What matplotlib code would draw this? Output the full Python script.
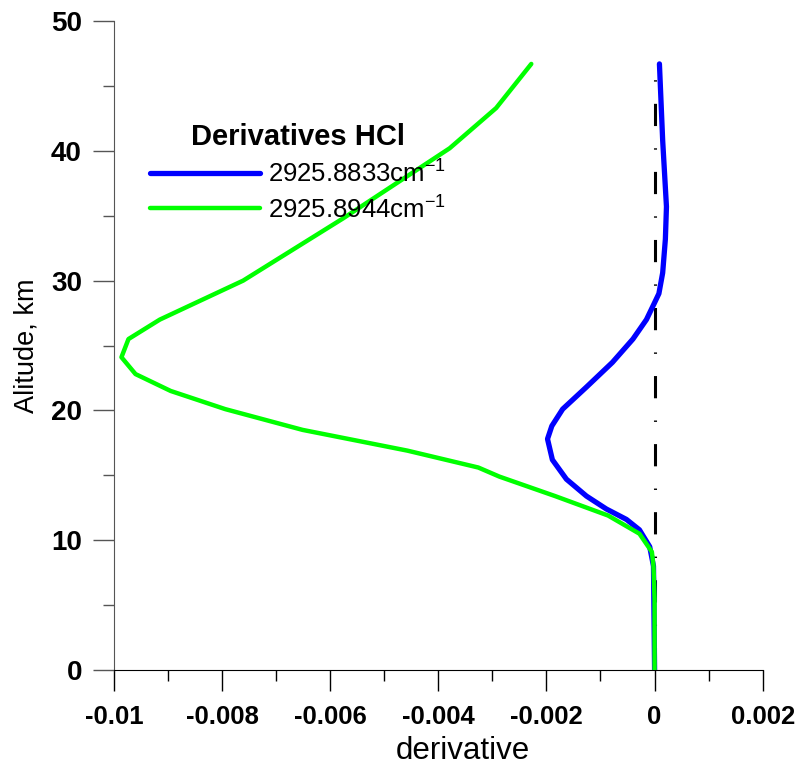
import matplotlib
matplotlib.use("Agg")
import matplotlib.pyplot as plt
from matplotlib.ticker import MultipleLocator, FuncFormatter

plt.rcParams['font.family'] = ['Liberation Sans', 'DejaVu Sans']
plt.rcParams['mathtext.fontset'] = 'custom'
plt.rcParams['mathtext.rm'] = 'Liberation Sans'
plt.rcParams['lines.scale_dashes'] = False

# altitude (km) and derivative values
alt_blue = [0, 8.0, 9.5, 10.8, 11.6, 12.4, 13.4, 14.7, 16.2, 17.8, 18.8, 20.1,
            21.8, 23.7, 25.5, 27.0, 28.3, 29.0, 30.6, 33.2, 35.7, 40.8, 46.7]
der_blue = [0.0, -0.00002, -0.00009, -0.00028, -0.00052, -0.00089, -0.00126,
            -0.00163, -0.00189, -0.00198, -0.0019, -0.0017, -0.00126, -0.00078,
            -0.0004, -0.00015, 0.0, 0.00008, 0.00015, 0.0002, 0.00022, 0.00015,
            0.00009]

alt_green = [0, 5.5, 8.0, 9.1, 10.5, 11.9, 13.4, 14.9, 15.6, 16.9, 18.5, 20.1,
             21.5, 22.8, 24.1, 25.5, 27.0, 30.0, 34.8, 40.2, 43.3, 46.7]
der_green = [0.0, 0.0, -0.00002, -0.00005, -0.00028, -0.00086, -0.00184,
             -0.00287, -0.00326, -0.00457, -0.00651, -0.00794, -0.00895,
             -0.0096, -0.00986, -0.00973, -0.00915, -0.00761, -0.00576,
             -0.00379, -0.00293, -0.00228]

ref_alt = [0, 46]
ref_der = [0, 0]

labels = ["2925.8833cm$^{-1}$", "2925.8944cm$^{-1}$"]

fig = plt.figure(figsize=(8.02, 7.67), dpi=100)
ax = fig.add_axes([0.142, 0.1265, 0.809, 0.846])

ax.plot(ref_der, ref_alt, color='black', linewidth=2.2,
        linestyle=(0, (16, 16, 1, 16)), zorder=1)
ax.plot(der_blue, alt_blue, color='#0000ff', linewidth=3.8,
        solid_capstyle='round', label=labels[0], zorder=2)
ax.plot(der_green, alt_green, color='#00ff00', linewidth=3.2,
        solid_capstyle='round', label=labels[1], zorder=3)

ax.set_xlim(-0.01, 0.002)
ax.set_ylim(0, 50)
ax.xaxis.set_major_locator(MultipleLocator(0.002))
ax.xaxis.set_minor_locator(MultipleLocator(0.001))
ax.yaxis.set_major_locator(MultipleLocator(10))
ax.yaxis.set_minor_locator(MultipleLocator(5))
ax.xaxis.set_major_formatter(FuncFormatter(lambda v, p: f"{round(v, 6):g}"))

for s in ['top', 'right']:
    ax.spines[s].set_visible(False)
ax.spines['left'].set_color('#555555')
ax.spines['bottom'].set_color('black')

ax.tick_params(axis='both', which='both', direction='out', width=1)
ax.tick_params(axis='both', which='major', length=15)
ax.tick_params(axis='both', which='minor', length=8)
ax.tick_params(axis='y', which='both', color='#555555')
ax.tick_params(axis='y', labelsize=20, pad=8)
ax.tick_params(axis='x', labelsize=18.5, pad=10)
for lab in ax.get_xticklabels() + ax.get_yticklabels():
    lab.set_fontweight('bold')

ax.set_xlabel("derivative", fontsize=22.5, va='center')
ax.xaxis.set_label_coords(0.538, -0.125)
ax.set_ylabel("Alitude, km", fontsize=19.5, labelpad=8)

leg = ax.legend(loc='upper left', bbox_to_anchor=(0.055, 0.843), frameon=False,
                fontsize=18.5, title="Derivatives HCl",
                title_fontproperties={'weight': 'bold', 'size': 21},
                handlelength=4.3, handletextpad=0.3, labelspacing=0.3,
                borderpad=0, borderaxespad=0)

fig.savefig("out.png", dpi=100)
